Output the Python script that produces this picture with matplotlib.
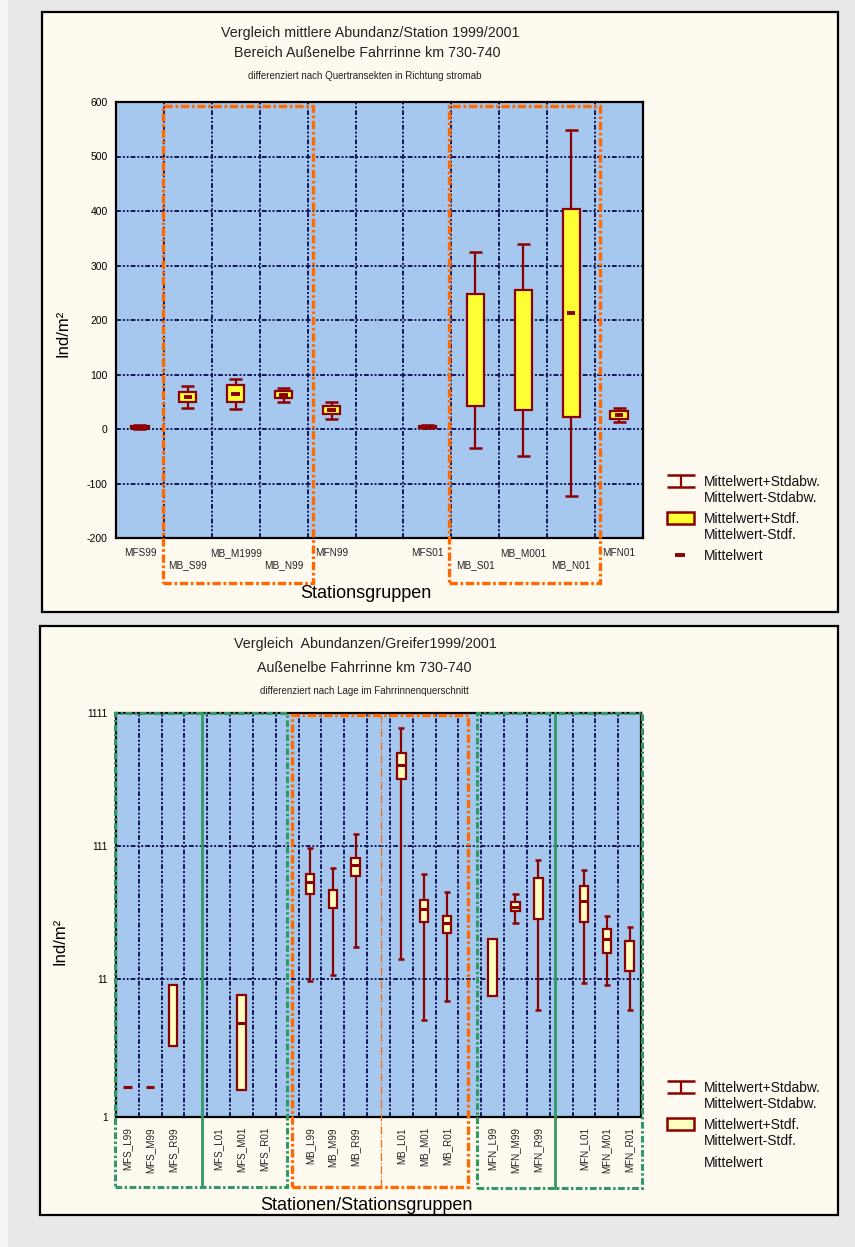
import numpy as np
import matplotlib
matplotlib.use('Agg')
import matplotlib.pyplot as plt
import matplotlib.transforms as mtransforms
from matplotlib.patches import Rectangle

plt.rcParams['font.family'] = ['Liberation Sans', 'DejaVu Sans']

nan = np.nan

# ---- upper chart: mean abundance per station (mean, standard error, standard deviation)
top_stations = ['MFS99', 'MB_S99', 'MB_M1999', 'MB_N99', 'MFN99', '',
                'MFS01', 'MB_S01', 'MB_M001', 'MB_N01', 'MFN01']
top_mean = [3.5, 58, 65, 62.5, 34, nan, 4, 145, 145, 213, 26]
top_se = [1.2, 9, 15, 6.5, 7.3, nan, 1.5, 102.5, 110.5, 191, 7]
top_sd = [4, 20, 27.5, 13, 16.2, nan, 2.5, 180, 194.5, 335.5, 13]
top_mean_shown = [True, True, True, True, True, False, True, False, False, True, True]
top_yticks = [-200, -100, 0, 100, 200, 300, 400, 500, 600]

# ---- lower chart: abundance per grab (log axis), box = mean +- se, whisker = mean +- sd
bot_stations = ['MFS_L99', 'MFS_M99', 'MFS_R99', '',
                'MFS_L01', 'MFS_M01', 'MFS_R01', '',
                'MB_L99', 'MB_M99', 'MB_R99', '',
                'MB_L01', 'MB_M01', 'MB_R01', '',
                'MFN_L99', 'MFN_M99', 'MFN_R99', '',
                'MFN_L01', 'MFN_M01', 'MFN_R01']
bot_mean = [1.69, 1.69, nan, nan, nan, 5.07, nan, nan, 59.6, nan, 79.1, nan,
            453, 36.8, 29.2, nan, nan, 38.6, nan, nan, 42.6, 22.1, nan]
bot_box_lo = [nan, nan, 3.44, nan, nan, 1.61, nan, nan, 48.1, 37.9, 65.7, nan,
              353, 29.7, 24.2, nan, 8.15, 35.8, 30.9, nan, 29.7, 17.3, 12.7]
bot_box_hi = [nan, nan, 9.87, nan, nan, 8.35, nan, nan, 68.1, 51.5, 89.4, nan,
              555, 43.3, 33.0, nan, 21.8, 41.8, 63.1, nan, 55.2, 26.0, 21.2]
bot_wh_lo = [nan, nan, nan, nan, nan, nan, nan, nan, 10.65, 11.75, 19.0, nan,
             15.5, 5.37, 7.52, nan, nan, 28.9, 6.36, nan, 10.3, 9.93, 6.36]
bot_wh_hi = [nan, nan, nan, nan, nan, nan, nan, nan, 106.3, 75.1, 135.6, nan,
             857, 68.1, 49.8, nan, nan, 48.3, 86.3, nan, 72.5, 33.0, 26.9]
bot_yticks = [1, 11, 111, 1111]

W, H = 855, 1247
DARKRED = '#8b0000'
BLUE = '#a6c8ee'
GRIDC = '#15155a'
ORANGE = '#ff6a00'
GREEN = '#2f9a63'
PANEL = '#fffaf0'
GRIDLS = (0, (2.5, 1, 1, 1, 1, 1))


def fx(x):
    return x / W


def fy(y):
    return 1 - y / H


fig = plt.figure(figsize=(W / 100, H / 100), dpi=100, facecolor='#e8e8e8')
fig.add_artist(Rectangle((0, 0), fx(8), 1, transform=fig.transFigure,
                         facecolor='#f4f4f4', edgecolor='none', zorder=-3))
for x0, y0, x1, y1 in [(42, 12, 838, 612), (40, 626, 838, 1215)]:
    fig.add_artist(Rectangle((fx(x0), fy(y1)), fx(x1) - fx(x0), fy(y0) - fy(y1),
                             transform=fig.transFigure, facecolor=PANEL,
                             edgecolor='black', lw=1.6, zorder=-2))


def style_axes(ax, n):
    ax.set_facecolor(BLUE)
    ax.set_xlim(-0.5, n - 0.5)
    ax.set_xticks([])
    ax.set_xticks(np.arange(n - 1) + 0.5, minor=True)
    ax.tick_params(which='both', length=0, labelsize=7.5, pad=6)
    ax.grid(which='minor', axis='x', color=GRIDC, ls=GRIDLS, lw=1.4)
    ax.grid(which='major', axis='y', color=GRIDC, ls=GRIDLS, lw=1.4)
    ax.set_axisbelow(True)
    for s in ax.spines.values():
        s.set_color('black')
        s.set_linewidth(1.6)


def group_box(ax, x0, x1, ybot, ytop, color, lw, ls):
    tr = mtransforms.blended_transform_factory(ax.transData, ax.transAxes)
    ax.add_patch(Rectangle((x0, ybot), x1 - x0, ytop - ybot, transform=tr,
                           fill=False, edgecolor=color, lw=lw, ls=ls,
                           clip_on=False, zorder=6))


def vline_group(ax, x, ybot, ytop, color, lw, ls):
    tr = mtransforms.blended_transform_factory(ax.transData, ax.transAxes)
    ax.plot([x, x], [ybot, ytop], transform=tr, color=color, lw=lw, ls=ls,
            clip_on=False, zorder=6)


# ================= upper chart =================
ax1 = fig.add_axes([fx(116), fy(538), fx(643) - fx(116), fy(102) - fy(538)])
n1 = len(top_stations)
style_axes(ax1, n1)
ax1.set_ylim(-200, 600)
ax1.set_yticks(top_yticks)
ax1.set_yticklabels([str(v) for v in top_yticks])

bw, cw = 0.36, 0.27
for i in range(n1):
    m, se, sd = top_mean[i], top_se[i], top_sd[i]
    if np.isnan(m):
        continue
    ax1.vlines(i, m - sd, m + sd, color=DARKRED, lw=1.6, zorder=3)
    ax1.hlines([m - sd, m + sd], i - cw / 2, i + cw / 2, color=DARKRED, lw=1.8, zorder=3)
    ax1.add_patch(Rectangle((i - bw / 2, m - se), bw, 2 * se, facecolor='#ffff33',
                            edgecolor=DARKRED, lw=1.6, zorder=4))
    if top_mean_shown[i]:
        ax1.hlines(m, i - 0.09, i + 0.09, color=DARKRED, lw=2.8, zorder=5)

tr1 = mtransforms.blended_transform_factory(ax1.transData, ax1.transAxes)
for i, lab in enumerate(top_stations):
    yy = -0.034 if i % 2 == 0 else -0.062
    ax1.text(i, yy, lab, transform=tr1, ha='center', va='center', fontsize=7.2,
             color='#222222')

group_box(ax1, 0.48, 3.62, -0.103, 0.991, ORANGE, 2.4, (0, (2.5, 0.8, 0.8, 0.8)))
group_box(ax1, 6.46, 9.60, -0.103, 0.991, ORANGE, 2.4, (0, (2.5, 0.8, 0.8, 0.8)))

fig.text(fx(370), fy(33), 'Vergleich mittlere Abundanz/Station 1999/2001',
         ha='center', va='center', fontsize=10.3, color='#222222')
fig.text(fx(367), fy(53), 'Bereich Außenelbe Fahrrinne km 730-740',
         ha='center', va='center', fontsize=10.3, color='#222222')
fig.text(fx(365), fy(76), 'differenziert nach Quertransekten in Richtung stromab',
         ha='center', va='center', fontsize=7.0, color='#222222')
fig.text(fx(366), fy(593), 'Stationsgruppen', ha='center', va='center', fontsize=13)
fig.text(fx(63), fy(333), 'Ind/m²', ha='center', va='center', rotation=90, fontsize=12)

# ================= lower chart =================
ax2 = fig.add_axes([fx(116), fy(1117), fx(641) - fx(116), fy(713) - fy(1117)])
n2 = len(bot_stations)
style_axes(ax2, n2)
ax2.set_yscale('log')
ax2.set_ylim(1, 1111)
ax2.set_yticks(bot_yticks)
ax2.set_yticklabels([str(v) for v in bot_yticks])
ax2.yaxis.set_minor_locator(matplotlib.ticker.NullLocator())
ax2.tick_params(axis='y', labelsize=7.2)

bw2, cw2 = 0.37, 0.27
for i in range(n2):
    if not np.isnan(bot_wh_lo[i]):
        ax2.vlines(i, bot_wh_lo[i], bot_wh_hi[i], color=DARKRED, lw=1.6, zorder=3)
        ax2.hlines([bot_wh_lo[i], bot_wh_hi[i]], i - cw2 / 2, i + cw2 / 2,
                   color=DARKRED, lw=1.8, zorder=3)
    if not np.isnan(bot_box_lo[i]):
        ax2.add_patch(Rectangle((i - bw2 / 2, bot_box_lo[i]), bw2,
                                bot_box_hi[i] - bot_box_lo[i], facecolor='#ffffc0',
                                edgecolor=DARKRED, lw=1.6, zorder=4))
    if not np.isnan(bot_mean[i]):
        ax2.hlines(bot_mean[i], i - bw2 / 2, i + bw2 / 2, color=DARKRED, lw=2.2, zorder=5)

tr2 = mtransforms.blended_transform_factory(ax2.transData, ax2.transAxes)
for i, lab in enumerate(bot_stations):
    ax2.text(i, -0.025, lab, transform=tr2, rotation=90, ha='center', va='top',
             fontsize=7.1, color='#222222')

gls = (0, (2.2, 0.8, 0.8, 0.8))
group_box(ax2, -0.54, 6.99, -0.173, 1.0, GREEN, 2.2, gls)
vline_group(ax2, 3.27, -0.173, 1.0, GREEN, 2.0, '-')
group_box(ax2, 15.31, 22.54, -0.175, 1.0, GREEN, 2.2, gls)
vline_group(ax2, 18.73, -0.175, 1.0, GREEN, 2.0, '-')
group_box(ax2, 7.21, 14.92, -0.173, 0.995, ORANGE, 2.4, (0, (2.5, 0.8, 0.8, 0.8)))
vline_group(ax2, 11.11, -0.173, 0.995, ORANGE, 0.9, '-.')

fig.text(fx(365), fy(644), 'Vergleich  Abundanzen/Greifer1999/2001',
         ha='center', va='center', fontsize=10.3, color='#222222')
fig.text(fx(364), fy(668), 'Außenelbe Fahrrinne km 730-740',
         ha='center', va='center', fontsize=10.3, color='#222222')
fig.text(fx(364), fy(691), 'differenziert nach Lage im Fahrrinnenquerschnitt',
         ha='center', va='center', fontsize=7.0, color='#222222')
fig.text(fx(366), fy(1205), 'Stationen/Stationsgruppen', ha='center', va='center', fontsize=13)
fig.text(fx(60), fy(941), 'Ind/m²', ha='center', va='center', rotation=90, fontsize=12)

# ================= legends (drawn in pixel overlay) =================
ov = fig.add_axes([0, 0, 1, 1], zorder=10)
ov.set_xlim(0, W)
ov.set_ylim(H, 0)
ov.axis('off')
ov.patch.set_alpha(0)


def legend(y_wh, y_box, y_mean, box_fc, mean_mark):
    ov.hlines([y_wh - 6, y_wh + 6], 667, 695, color=DARKRED, lw=1.8)
    ov.vlines(681, y_wh - 6, y_wh + 6, color=DARKRED, lw=1.6)
    ov.add_patch(Rectangle((667, y_box - 6), 27, 12, facecolor=box_fc,
                           edgecolor=DARKRED, lw=1.8))
    if mean_mark:
        ov.hlines(y_mean, 675, 685, color=DARKRED, lw=2.8)
    kw = dict(ha='left', va='center', fontsize=10, color='#111111')
    ov.text(704, y_wh + 1, 'Mittelwert+Stdabw.', **kw)
    ov.text(704, y_wh + 17, 'Mittelwert-Stdabw.', **kw)
    ov.text(704, y_box + 1, 'Mittelwert+Stdf.', **kw)
    ov.text(704, y_box + 17, 'Mittelwert-Stdf.', **kw)
    ov.text(704, y_mean + 1, 'Mittelwert', **kw)


legend(481, 518, 555, '#ffff33', True)
legend(1087, 1124, 1162, '#ffffc0', False)

fig.savefig('out.png', dpi=100, facecolor=fig.get_facecolor())
